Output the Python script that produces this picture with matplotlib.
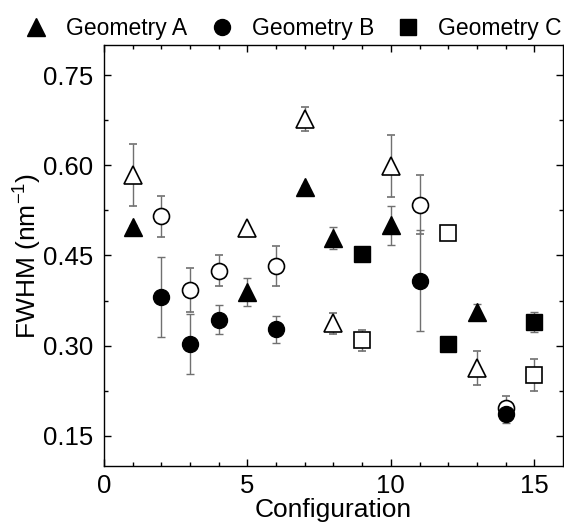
import matplotlib
matplotlib.use("Agg")
import matplotlib.pyplot as plt

plt.rcParams['font.family'] = ['Liberation Sans', 'DejaVu Sans']

# Geometry A (triangles)
xa = [1, 5, 7, 8, 10, 13]
ya_closed = [0.497, 0.389, 0.564, 0.479, 0.500, 0.356]
ea_closed = [0.004, 0.023, 0.004, 0.018, 0.032, 0.014]
ya_open = [0.584, 0.495, 0.677, 0.337, 0.599, 0.263]
ea_open = [0.052, 0.004, 0.020, 0.017, 0.051, 0.028]

# Geometry B (circles)
xb = [2, 3, 4, 6, 11, 14]
yb_closed = [0.381, 0.303, 0.343, 0.327, 0.408, 0.187]
eb_closed = [0.067, 0.050, 0.024, 0.022, 0.084, 0.015]
yb_open = [0.515, 0.393, 0.425, 0.432, 0.534, 0.196]
eb_open = [0.034, 0.037, 0.026, 0.033, 0.049, 0.021]

# Geometry C (squares)
xc = [9, 12, 15]
yc_closed = [0.453, 0.302, 0.339]
ec_closed = [0.004, 0.004, 0.017]
yc_open = [0.309, 0.488, 0.251]
ec_open = [0.017, 0.004, 0.027]

fig = plt.figure(figsize=(5.64, 5.26), dpi=100)
ax = fig.add_axes([0.1844, 0.1141, 0.8138, 0.8004])

err_kw = dict(ecolor='#707070', elinewidth=1.0, capsize=3, capthick=1.0, linestyle='none')

series = [
    (xa, ya_closed, ea_closed, ya_open, ea_open, '^', 13, 'Geometry A'),
    (xb, yb_closed, eb_closed, yb_open, eb_open, 'o', 11.5, 'Geometry B'),
    (xc, yc_closed, ec_closed, yc_open, ec_open, 's', 11, 'Geometry C'),
]

handles = []
for x, yc_, ec_, yo, eo, m, ms, lab in series:
    ax.errorbar(x, yo, yerr=eo, fmt=m, ms=ms, mfc='white', mec='black', mew=1.2,
                zorder=3, **err_kw)
    h = ax.errorbar(x, yc_, yerr=ec_, fmt=m, ms=ms, mfc='black', mec='black', mew=1.0,
                    zorder=3, label=lab, **err_kw)
    handles.append(h[0])

ax.set_xlim(0, 16)
ax.set_ylim(0.10, 0.80)
ax.set_xticks([0, 5, 10, 15])
ax.set_xticks(range(0, 16), minor=True)
ax.set_yticks([0.15, 0.30, 0.45, 0.60, 0.75])
ax.set_yticks([0.225, 0.375, 0.525, 0.675], minor=True)
ax.set_yticklabels(['0.15', '0.30', '0.45', '0.60', '0.75'])

ax.tick_params(which='both', direction='in', top=True, right=True, width=1.0)
ax.tick_params(which='major', length=5, labelsize=18.5)
ax.tick_params(which='minor', length=2.7)
ax.tick_params(axis='x', pad=6)
ax.tick_params(axis='y', pad=8)
for sp in ax.spines.values():
    sp.set_linewidth(1.0)

ax.set_xlabel('Configuration', fontsize=19, labelpad=0)
ax.set_ylabel(r'FWHM (nm$^{\mathregular{-1}}$)', fontsize=19, labelpad=0)

fig.legend(handles=handles, labels=['Geometry A', 'Geometry B', 'Geometry C'],
           loc='center', bbox_to_anchor=(0.52, 0.945), ncol=3, frameon=False,
           fontsize=16.5, handlelength=1.0, handletextpad=0.8, columnspacing=1.0,
           borderaxespad=0, borderpad=0)

fig.savefig('out.png', dpi=100)
